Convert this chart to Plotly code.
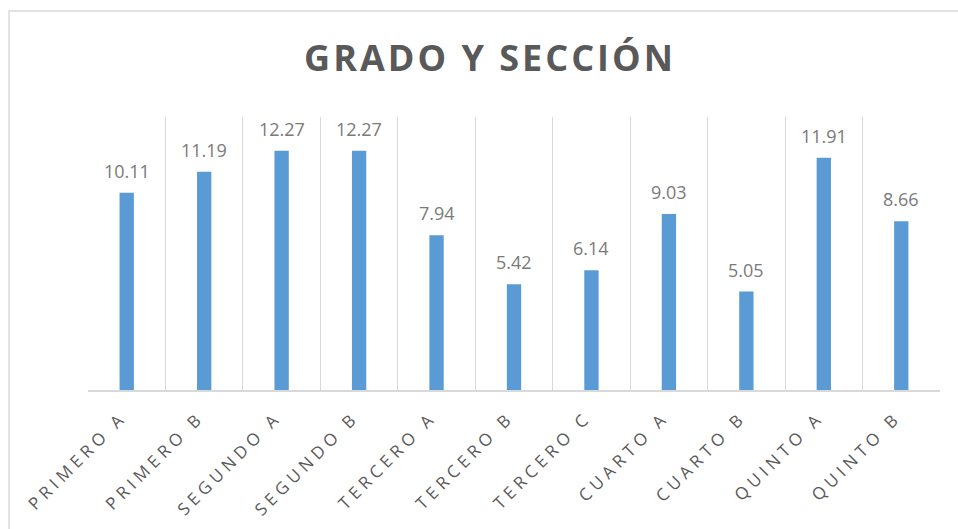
import plotly.graph_objects as go

categories = ["PRIMERO A", "PRIMERO B", "SEGUNDO A", "SEGUNDO B", "TERCERO A",
              "TERCERO B", "TERCERO C", "CUARTO A", "CUARTO B", "QUINTO A", "QUINTO B"]
values = [10.11, 11.19, 12.27, 12.27, 7.94, 5.42, 6.14, 9.03, 5.05, 11.91, 8.66]
value_labels = ["10.11", "11.19", "12.27", "12.27", "7.94", "5.42", "6.14", "9.03", "5.05", "11.91", "8.66"]
title_text = "GRADO Y SECCIÓN"

W, H = 958, 529
L, R, T, B = 88, 18, 117, 139
pw, ph = W - L - R, H - T - B

fig = go.Figure()
fig.add_trace(go.Bar(
    x=categories, y=values,
    marker=dict(color="#5B9BD5", line=dict(width=0)),
    hoverinfo="x+y",
))

for c, v, t in zip(categories, values, value_labels):
    fig.add_annotation(x=c, y=v, text=t, showarrow=False, yanchor="bottom",
                       yshift=8, font=dict(family="Open Sans", size=18, color="#7A7A7A"))

ticktext = ['<span style="letter-spacing:4.6px">%s</span>' % c for c in categories]

# outer chart border (light gray), top and left visible
fig.add_shape(type="rect", xref="paper", yref="paper",
              x0=(9 - L) / pw, x1=(W + 20 - L) / pw,
              y0=(H - B - (H + 20)) / ph, y1=(H - B - 11) / ph,
              line=dict(color="#D9D9D9", width=1.5), fillcolor="rgba(0,0,0,0)", layer="below")

fig.update_layout(
    width=W, height=H,
    margin=dict(l=L, r=R, t=T, b=B, pad=0, autoexpand=False),
    paper_bgcolor="white", plot_bgcolor="white",
    bargap=0.815,
    showlegend=False,
    title=dict(text='<span style="letter-spacing:3px">%s</span>' % title_text,
               x=490 / W, xanchor="center", xref="container",
               y=1 - 58.5 / H, yanchor="middle", yref="container",
               font=dict(family="Open Sans", size=36, color="#595959", weight="bold")),
    xaxis=dict(
        type="category", tickmode="array", tickvals=categories, ticktext=ticktext,
        tickangle=-45, tickson="boundaries", ticks="", automargin=False,
        showgrid=True, gridcolor="#D9D9D9", gridwidth=1.3,
        showline=True, linecolor="#D9D9D9", linewidth=1.5,
        tickfont=dict(family="Open Sans", size=17, color="#595959"),
        range=[-0.5, len(categories) - 0.5], ticklabelstandoff=9, ticklabelshift=-5,
    ),
    yaxis=dict(range=[0, 14], showgrid=False, showticklabels=False, zeroline=False,
               showline=False, ticks=""),
)

fig.write_html("out.html", config={"displayModeBar": False},
               post_script="document.body.style.margin='0';document.body.style.padding='0';")
